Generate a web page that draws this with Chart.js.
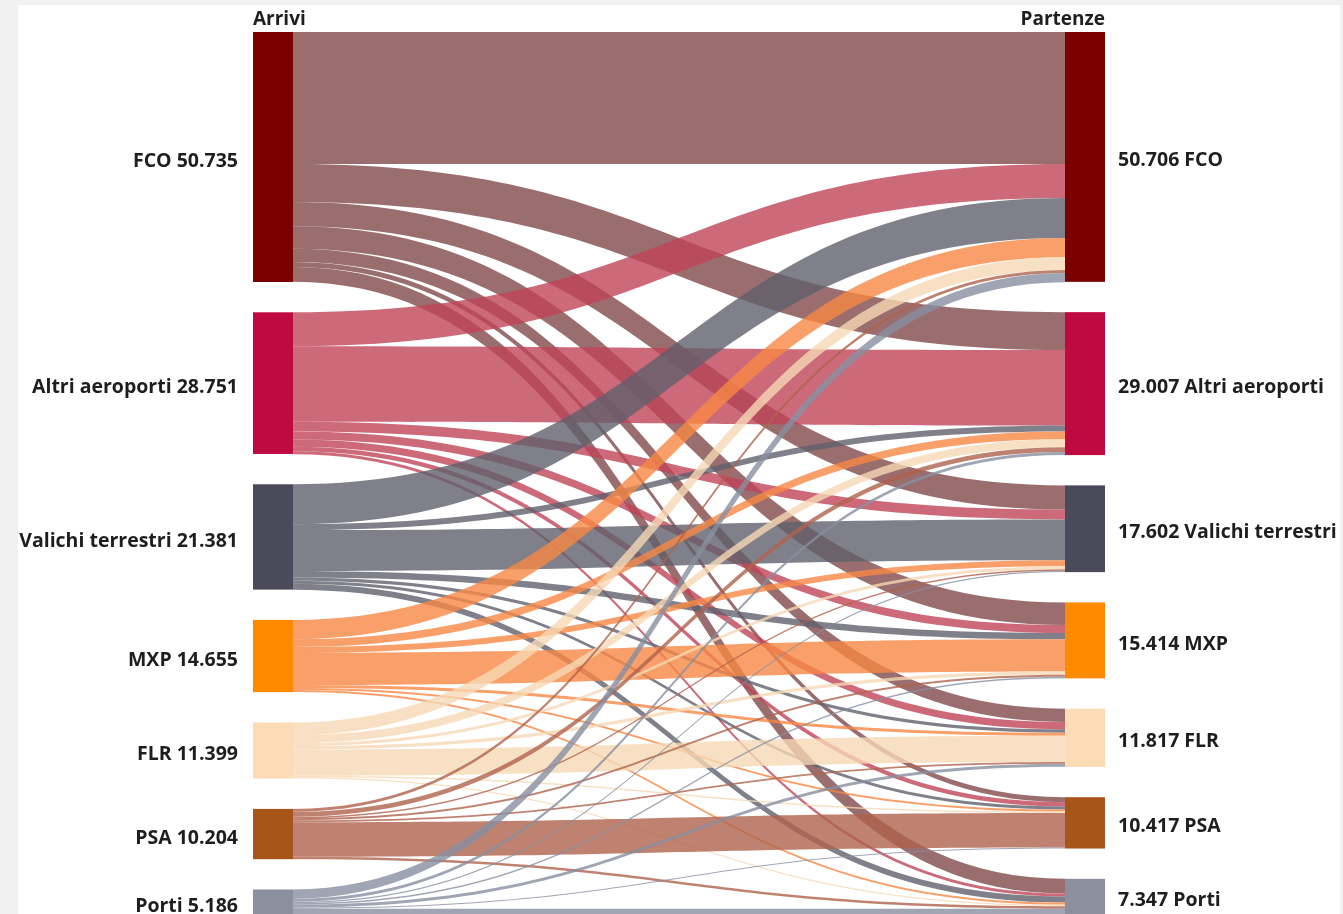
<!DOCTYPE html>
<html lang="it">
<head>
<meta charset="utf-8">
<title>Arrivi e partenze</title>
<script src="https://cdn.jsdelivr.net/npm/chart.js@4.4.1/dist/chart.umd.min.js"></script>
<style>
  html, body { margin: 0; padding: 0; background: #f1f1f1; }
  #wrap { position: relative; width: 1343px; height: 914px; overflow: hidden; }
  #panel { position: absolute; left: 18px; top: 5px; width: 1322px; height: 909px; background: #fff; }
  #sankey { position: absolute; left: 0; top: 0; }
</style>
</head>
<body>
<div id="wrap">
  <div id="panel"></div>
  <canvas id="sankey" width="1343" height="914"></canvas>
</div>
<script>
  "use strict";

  // nodi (stesso ordine a sinistra e a destra)
  const nodi = ["FCO", "Altri aeroporti", "Valichi terrestri", "MXP", "FLR", "PSA", "Porti"];
  const arrivi = [50735, 28751, 21381, 14655, 11399, 10204, 5186];
  const partenze = [50706, 29007, 17602, 15414, 11817, 10417, 7347];

  // flussi arrivo -> partenza, una riga per nodo di arrivo (valori stimati dal grafico)
  const daFCO = [26800, 7700, 4900, 4600, 2700, 1000, 3000];
  const daAltri = [6900, 15300, 2000, 1600, 1500, 900, 600];
  const daValichi = [8100, 1200, 8300, 1300, 700, 600, 1200];
  const daMXP = [3900, 1600, 1200, 6500, 600, 400, 450];
  const daFLR = [2600, 1600, 600, 700, 5300, 300, 300];
  const daPSA = [600, 1000, 300, 400, 400, 7000, 500];
  const daPorti = [1900, 600, 300, 300, 600, 200, 1300];
  const flussi = [daFCO, daAltri, daValichi, daMXP, daFLR, daPSA, daPorti];

  const coloriNodi = ["#7b0000", "#be0a40", "#4a4a5a", "#ff8a00", "#fbdcb6", "#a8551a", "#8a909e"];
  const coloriFlussi = [
    "rgba(129,74,74,0.8)", "rgba(192,69,89,0.8)", "rgba(96,96,109,0.8)", "rgba(247,136,69,0.8)",
    "rgba(246,216,181,0.8)", "rgba(176,99,76,0.8)", "rgba(136,143,161,0.8)"
  ];

  const GAP = 6150;        // spazio tra i nodi, in unita' del grafico
  const Y_MAX = 179000;    // il grafico esce un po' sotto il bordo, come nell'originale
  const NODE_W = 40;
  const FONT = "'Open Sans', 'Liberation Sans', sans-serif";

  const fmtIT = (v) => String(v).replace(/\B(?=(\d{3})+(?!\d))/g, ".");

  // posizioni cumulative dei nodi in una colonna
  function colonna(totali) {
    let acc = 0;
    return totali.map((t) => { const top = acc; acc += t + GAP; return { top, bottom: top + t }; });
  }

  const sankeyPlugin = {
    id: "sankey",
    afterDatasetsDraw(chart) {
      const ctx = chart.ctx;
      const x = chart.scales.x, y = chart.scales.y;
      const sx = x.getPixelForValue(0), tx = x.getPixelForValue(1);
      const sin = colonna(arrivi), des = colonna(partenze);
      const outOff = sin.map((n) => n.top);
      const inOff = des.map((n) => n.top);

      // prima tutti gli offset, poi si disegna
      const links = [];
      flussi.forEach((riga, s) => {
        riga.forEach((v, t) => {
          links.push({ s, t, v, so: outOff[s], to: 0 });
          outOff[s] += v;
        });
      });
      for (let s = 0; s < nodi.length; s++) {
        links.filter((l) => l.s === s).forEach((l) => { l.to = inOff[l.t]; inOff[l.t] += l.v; });
      }

      const x0 = sx + NODE_W, x1 = tx - NODE_W, xm = (x0 + x1) / 2;
      ctx.save();
      links.forEach((l) => {
        const a0 = y.getPixelForValue(l.so), a1 = y.getPixelForValue(l.so + l.v);
        const b0 = y.getPixelForValue(l.to), b1 = y.getPixelForValue(l.to + l.v);
        ctx.beginPath();
        ctx.moveTo(x0, a0);
        ctx.bezierCurveTo(xm, a0, xm, b0, x1, b0);
        ctx.lineTo(x1, b1);
        ctx.bezierCurveTo(xm, b1, xm, a1, x0, a1);
        ctx.closePath();
        ctx.fillStyle = coloriFlussi[l.s];
        ctx.fill();
      });

      // nodi
      nodi.forEach((nome, i) => {
        ctx.fillStyle = coloriNodi[i];
        let t = y.getPixelForValue(sin[i].top), b = y.getPixelForValue(sin[i].bottom);
        ctx.fillRect(sx, t, NODE_W, b - t);
        t = y.getPixelForValue(des[i].top); b = y.getPixelForValue(des[i].bottom);
        ctx.fillRect(tx - NODE_W, t, NODE_W, b - t);
      });

      // etichette
      ctx.fillStyle = "#1e1e1e";
      ctx.font = "bold 19.5px " + FONT;
      ctx.textBaseline = "middle";
      nodi.forEach((nome, i) => {
        const ym = y.getPixelForValue((sin[i].top + sin[i].bottom) / 2);
        ctx.textAlign = "right";
        ctx.fillText(nome + " " + fmtIT(arrivi[i]), sx - 15, ym + 4);
        const yr = y.getPixelForValue((des[i].top + des[i].bottom) / 2);
        ctx.textAlign = "left";
        ctx.fillText(fmtIT(partenze[i]) + " " + nome, tx + 13, yr + 4);
      });

      ctx.font = "bold 19px " + FONT;
      ctx.textBaseline = "alphabetic";
      ctx.textAlign = "left";
      ctx.fillText("Arrivi", sx, 25);
      ctx.textAlign = "right";
      ctx.fillText("Partenze", tx, 25);
      ctx.restore();
    }
  };

  new Chart(document.getElementById("sankey"), {
    type: "scatter",
    data: { datasets: [{ data: [] }] },
    options: {
      responsive: false,
      animation: false,
      devicePixelRatio: 1,
      layout: { padding: { left: 253, right: 238, top: 32, bottom: 0 } },
      plugins: { legend: { display: false }, tooltip: { enabled: false } },
      scales: {
        x: { type: "linear", min: 0, max: 1, display: false },
        y: { type: "linear", min: 0, max: Y_MAX, reverse: true, display: false }
      }
    },
    plugins: [sankeyPlugin]
  });
</script>
</body>
</html>
